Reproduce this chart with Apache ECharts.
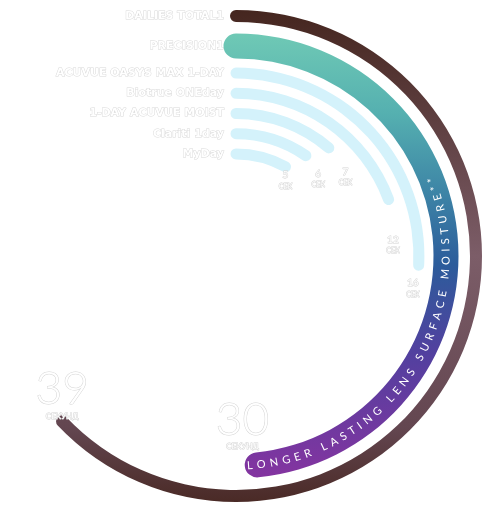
<!DOCTYPE html>
<html lang="en">

<head>
  <meta charset="UTF-8" />
  <title>Surface moisture</title>
  <script src="https://cdn.jsdelivr.net/npm/echarts@6/dist/echarts.min.js"></script>
  <style>
    body,
    html {
      margin: 0;
      padding: 0;
      width: 100%;
      height: 100%;
      overflow: hidden;
      background: #fff;
    }

    #chart {
      width: 497px;
      height: 518px;
    }
  </style>
</head>

<body>
  <div id="chart"></div>
</body>
<script>
  // outer ring first, then the five inner rings from outside in
  var lensNames = ['DAILIES TOTAL1', 'PRECISION1', 'ACUVUE OASYS MAX 1-DAY', 'Biotrue ONEday', '1-DAY ACUVUE MOIST', 'Clariti 1day', 'MyDay'];
  var moistureSeconds = [39, 30, 16, 12, 7, 6, 5];
  var unitShort = 'СЕК';
  var unitLong = 'СЕКУНД';
  var arcText = 'LONGER LASTING LENS SURFACE MOISTURE**';
  var angleMax = 62;

  var cx = 236, cy = 256;

  var innerNames = lensNames.slice(2).reverse();
  var innerValues = moistureSeconds.slice(2).reverse();
  // nudges that drop each value label under the end of its ring (inner rings, inside out)
  var innerNudge = [[-16, 8], [-3, 17], [2, 22], [-6, 35], [-12, 12]];

  var nameStyle = {
    color: '#fff',
    fontSize: 11,
    fontWeight: 'bold',
    fontFamily: 'DejaVu Sans',
    textBorderColor: '#d9d9d9',
    textBorderWidth: 1
  };

  function radiusAxis(idx, names) {
    return {
      polarIndex: idx,
      type: 'category',
      data: names,
      axisLine: { show: false },
      axisTick: { show: false },
      splitLine: { show: false },
      axisLabel: Object.assign({ margin: 12, interval: 0 }, nameStyle)
    };
  }

  function angleAxis(idx) {
    return {
      polarIndex: idx,
      type: 'value',
      min: 0,
      max: angleMax,
      startAngle: 90,
      clockwise: true,
      show: false
    };
  }

  var outline = { color: '#fff', textBorderColor: '#d4d4d4', textBorderWidth: 1, align: 'center' };
  var smallRich = {
    n: Object.assign({ fontSize: 10, fontFamily: 'Lato', lineHeight: 13 }, outline),
    u: Object.assign({ fontSize: 7, fontFamily: 'Lato', lineHeight: 10 }, outline)
  };
  var bigRich = {
    n: Object.assign({ fontSize: 46, fontWeight: 300, fontFamily: 'Lato', lineHeight: 42 }, outline),
    u: Object.assign({ fontSize: 8, fontFamily: 'Lato', lineHeight: 12 }, outline)
  };

  // curved caption along the PRECISION ring, one glyph at a time
  function arcLetters() {
    var ctx = document.createElement('canvas').getContext('2d');
    var font = '11px Lato';
    ctx.font = font;
    var r = 210, spacing = 4.3;
    var s = 0;
    var startDeg = 177;
    var out = [];
    for (var i = 0; i < arcText.length; i++) {
      var ch = arcText[i];
      var w = ctx.measureText(ch).width;
      var mid = s + w / 2;
      var th = (startDeg * Math.PI / 180) - mid / r;
      out.push({
        type: 'text',
        x: cx + r * Math.sin(th),
        y: cy - r * Math.cos(th),
        rotation: Math.PI - th,
        z: 100,
        style: {
          text: ch,
          fill: '#fff',
          font: font,
          align: 'center',
          verticalAlign: 'middle'
        }
      });
      s += w + spacing;
    }
    return out;
  }

  var myChart = echarts.init(document.getElementById('chart'));

  var option = {
    backgroundColor: '#fff',
    animation: false,
    polar: [
      { center: [cx, cy], radius: [92, 193] },
      { center: [cx, cy], radius: [197, 223] },
      { center: [cx, cy], radius: [233, 247] }
    ],
    angleAxis: [angleAxis(0), angleAxis(1), angleAxis(2)],
    radiusAxis: [
      radiusAxis(0, innerNames),
      radiusAxis(1, [lensNames[1]]),
      radiusAxis(2, [lensNames[0]])
    ],
    graphic: arcLetters(),
    series: [{
        type: 'bar',
        coordinateSystem: 'polar',
        polarIndex: 0,
        data: innerValues.map(function (v, i) {
          return { value: v, label: { offset: innerNudge[i] } };
        }),
        barWidth: 11,
        roundCap: true,
        itemStyle: { color: '#d4f2fb' },
        label: {
          show: true,
          position: 'end',
          rotate: 0,
          formatter: function (p) {
            return '{n|' + p.value + '}\n{u|' + unitShort + '}';
          },
          rich: smallRich
        }
      },
      {
        type: 'bar',
        coordinateSystem: 'polar',
        polarIndex: 1,
        data: [moistureSeconds[1]],
        barWidth: 25,
        roundCap: true,
        itemStyle: {
          color: new echarts.graphic.LinearGradient(0, 0, 0, 1, [
            { offset: 0, color: '#6fc9b5' },
            { offset: 0.18, color: '#55b0b0' },
            { offset: 0.36, color: '#3d84a6' },
            { offset: 0.52, color: '#2c5c9b' },
            { offset: 0.72, color: '#52409f' },
            { offset: 1, color: '#8434a0' }
          ])
        },
        label: {
          show: true,
          position: 'end',
          rotate: 0,
          offset: [-24, -41],
          formatter: function (p) {
            return '{n|' + p.value + '}\n{u|' + unitLong + '}';
          },
          rich: bigRich
        }
      },
      {
        type: 'bar',
        coordinateSystem: 'polar',
        polarIndex: 2,
        data: [moistureSeconds[0]],
        barWidth: 12,
        roundCap: true,
        itemStyle: {
          color: new echarts.graphic.LinearGradient(0, 0, 0, 1, [
            { offset: 0, color: '#45261f' },
            { offset: 0.5, color: '#7c5d68' },
            { offset: 0.85, color: '#634650' },
            { offset: 1, color: '#4a2a26' }
          ])
        },
        label: {
          show: true,
          position: 'end',
          rotate: 0,
          offset: [-19, -18],
          formatter: function (p) {
            return '{n|' + p.value + '}\n{u|' + unitLong + '}';
          },
          rich: bigRich
        }
      }
    ]
  };
  myChart.setOption(option);
</script>

</html>
